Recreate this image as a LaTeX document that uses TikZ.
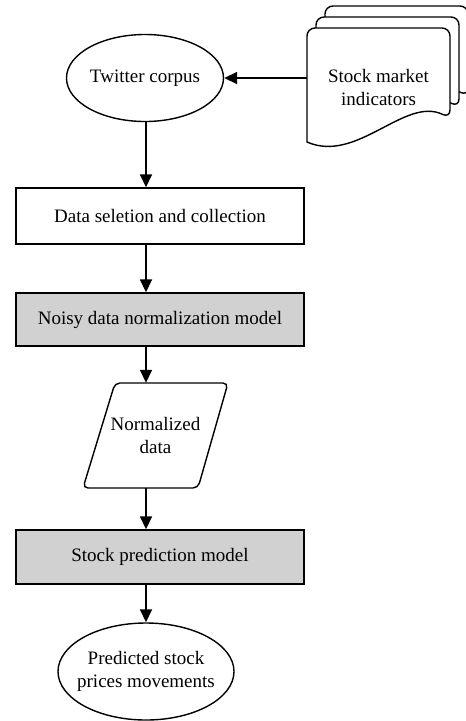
\documentclass[tikz,border=0pt]{standalone}
\usepackage{fontspec}
\setmainfont{Liberation Serif}
\usetikzlibrary{arrows.meta,shapes.geometric}
\definecolor{boxgray}{RGB}{209,209,209}
\newcommand\mydocshape[4]{%
  \filldraw[docpath] (#1,#4) [rounded corners=8pt] -- (#1,#2) -- (#3,#2) -- (#3,#4-24)
    [sharp corners] .. controls (#3-45,#4-46) and (#1+50,#4+22) .. (#1,#4) -- cycle;}
\begin{document}
\begin{tikzpicture}[x=1pt,y=-1pt,
  every node/.style={font=\fontsize{19}{23}\selectfont, align=center},
  line/.style={line width=1.4pt},
  arr/.style={line width=1.6pt, -{Triangle[length=13pt,width=12pt]}},
  ell/.style={ellipse, draw, line width=1.4pt, inner sep=0pt},
  procbox/.style={rectangle, draw, line width=1.4pt, minimum width=288pt, minimum height=54pt, inner sep=0pt},
  graybox/.style={procbox, fill=boxgray},
  docpath/.style={draw, line width=1.4pt, fill=white}]
\useasboundingbox (0,0) rectangle (466,721);
\clip (0,0) rectangle (466,721);

\coordinate (col) at (146,0);

% document stack
\mydocshape{325}{6}{468}{120}
\mydocshape{316}{17}{459}{131}
\mydocshape{307}{28}{450}{142}
\node[minimum width=143pt, minimum height=100pt, inner sep=0pt] (doc) at (378.5,87) {Stock market\\indicators};

\node[ell, minimum width=157pt, minimum height=87pt] (tw) at (145,78) {Twitter corpus};
\node[procbox, minimum height=56pt] (b1) at (160,216) {Data seletion and collection};
\node[graybox, minimum height=53pt] (b2) at (160,319.5) {Noisy data normalization model};
\draw[line, rounded corners=5pt] (115,383) -- (228,383) -- (198,488) -- (83,488) -- cycle;
\node[minimum width=145pt, minimum height=105pt, inner sep=0pt] (nd) at (155.5,435.5) {Normalized\\data};
\node[graybox, minimum height=54pt] (b3) at (160,557) {Stock prediction model};
\node[ell, minimum width=176pt, minimum height=97pt, inner sep=-7pt] (pr) at (146,671.5) {Predicted stock\\prices movements};

\draw[arr] (doc.west |- tw.east) -- (tw.east);
\draw[arr] (col |- tw.south) -- (col |- b1.north);
\draw[arr] (col |- b1.south) -- (col |- b2.north);
\draw[arr] (col |- b2.south) -- (col |- nd.north);
\draw[arr] (col |- nd.south) -- (col |- b3.north);
\draw[arr] (col |- b3.south) -- (pr.north);
\end{tikzpicture}
\end{document}
